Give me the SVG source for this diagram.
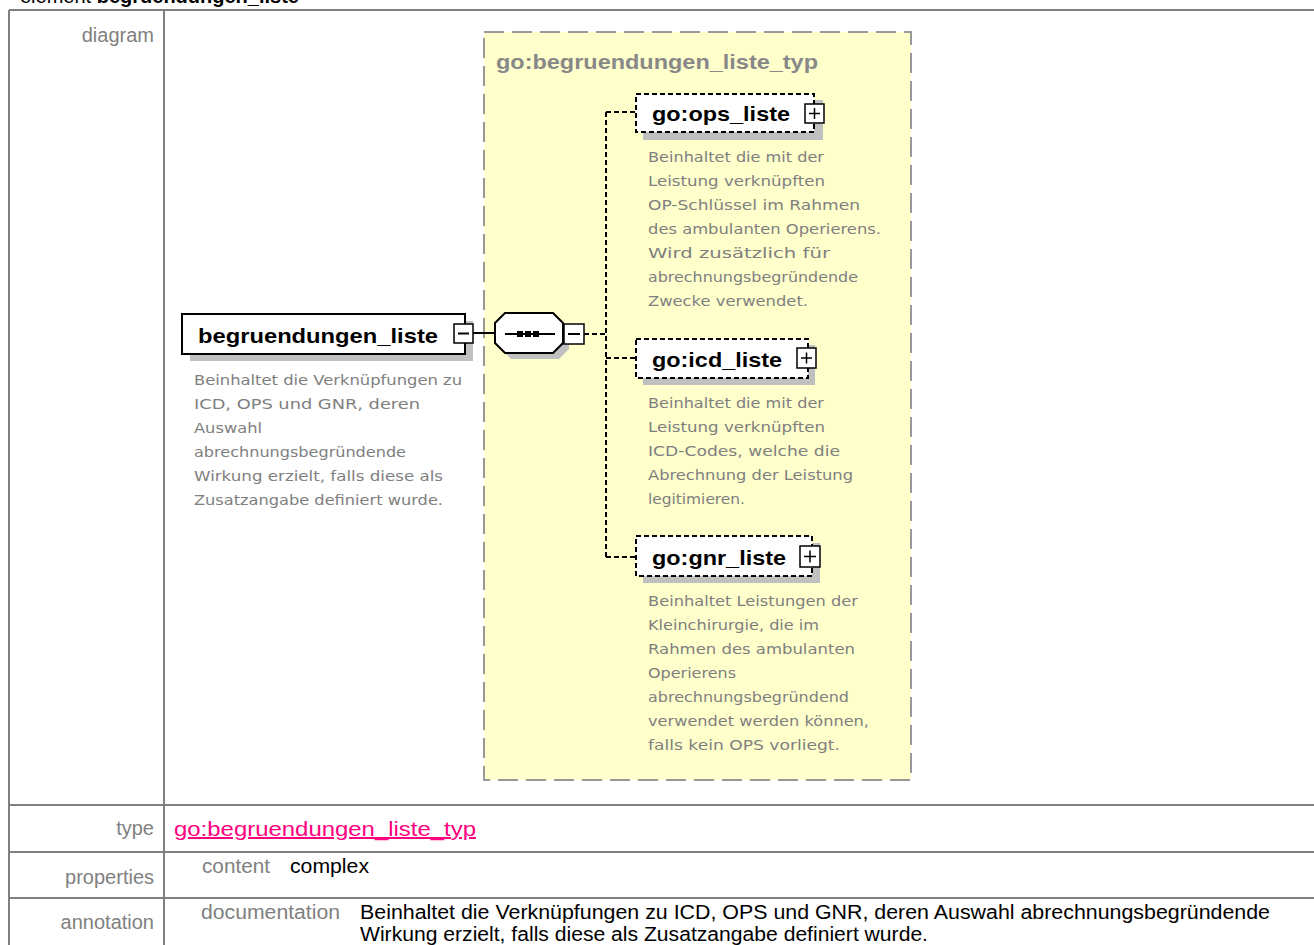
<svg xmlns="http://www.w3.org/2000/svg" width="1314" height="945" viewBox="0 0 1314 945">
<style>
.grid{stroke:#808080;stroke-width:2;fill:none}
.lbl{font-family:"Liberation Sans",Arial,sans-serif;font-size:20px;fill:#808080}
.val{font-family:"Liberation Sans",Arial,sans-serif;font-size:20px;fill:#000}
.name{font-family:"Liberation Sans",Arial,sans-serif;font-size:21px;font-weight:bold;fill:#000}
.desc{font-family:"DejaVu Sans",Verdana,sans-serif;font-size:14px;fill:#808080}
.shadow{fill:#c0c0c0}
.box{fill:#fff;stroke:#000;stroke-width:2}
.dbox{fill:#fff;stroke:#000;stroke-width:2;stroke-dasharray:5,3}
.conn{stroke:#000;stroke-width:2;fill:none;stroke-dasharray:5,3}
.solid{stroke:#000;stroke-width:2;fill:none}
.pm{fill:#fff;stroke:#000;stroke-width:1.5}
</style>
<rect width="1314" height="945" fill="#fff"/>
<text x="20" y="3" class="val" style="font-size:20px">element <tspan font-weight="bold">begruendungen_liste</tspan></text>
<g id="table">
<path class="grid" d="M9,10H1314M9,10V945M164,10V945M9,805H1314M9,852H1314M9,898H1314"/>
<text class="lbl" x="154" y="42" text-anchor="end">diagram</text>
<text class="lbl" x="154" y="835" text-anchor="end">type</text>
<text class="lbl" x="154" y="884" text-anchor="end">properties</text>
<text class="lbl" x="154" y="929" text-anchor="end">annotation</text>
<text x="174" y="836" style="font-family:'Liberation Sans',Arial,sans-serif;font-size:20px;fill:#ff0080;text-decoration:underline" textLength="302" lengthAdjust="spacingAndGlyphs">go:begruendungen_liste_typ</text>
<text class="lbl" x="202" y="873" textLength="68" lengthAdjust="spacingAndGlyphs">content</text>
<text class="val" x="290" y="873" textLength="79" lengthAdjust="spacingAndGlyphs">complex</text>
<text class="lbl" x="201" y="919" textLength="139" lengthAdjust="spacingAndGlyphs">documentation</text>
<text class="val" x="360" y="919" textLength="910" lengthAdjust="spacingAndGlyphs">Beinhaltet die Verknüpfungen zu ICD, OPS und GNR, deren Auswahl abrechnungsbegründende</text>
<text class="val" x="360" y="941" textLength="568" lengthAdjust="spacingAndGlyphs">Wirkung erzielt, falls diese als Zusatzangabe definiert wurde.</text>
</g>
<g id="complexType">
<rect x="484" y="32" width="427" height="748" fill="#ffffcc" stroke="#999" stroke-width="2" stroke-dasharray="20,8"/>
<text x="496" y="69" style="font-family:'Liberation Sans',Arial,sans-serif;font-size:21px;font-weight:bold;fill:#888" textLength="322" lengthAdjust="spacingAndGlyphs">go:begruendungen_liste_typ</text>
</g>
<g id="connectors">
<line class="solid" x1="473" y1="333" x2="495" y2="333"/>
<path class="conn" d="M584,334H606M606,112V557M606,112H636M606,358H636M606,557H636"/>
</g>
<g id="begruendungen_liste">
<rect class="shadow" x="190" y="321" width="283" height="40"/>
<rect class="box" x="182" y="314" width="283" height="40"/>
<text class="name" x="198" y="343" textLength="240" lengthAdjust="spacingAndGlyphs">begruendungen_liste</text>
<rect class="pm" x="454" y="324" width="19" height="19"/>
<line class="solid" x1="458" y1="333.5" x2="469" y2="333.5" stroke-width="1.5"/>
<g class="desc">
<text x="194" y="385" textLength="268" lengthAdjust="spacingAndGlyphs">Beinhaltet die Verknüpfungen zu</text>
<text x="194" y="409" textLength="226" lengthAdjust="spacingAndGlyphs">ICD, OPS und GNR, deren</text>
<text x="194" y="433" textLength="68" lengthAdjust="spacingAndGlyphs">Auswahl</text>
<text x="194" y="457" textLength="212" lengthAdjust="spacingAndGlyphs">abrechnungsbegründende</text>
<text x="194" y="481" textLength="249" lengthAdjust="spacingAndGlyphs">Wirkung erzielt, falls diese als</text>
<text x="194" y="505" textLength="249" lengthAdjust="spacingAndGlyphs">Zusatzangabe definiert wurde.</text>
</g>
</g>
<g id="sequence">
<polygon class="shadow" points="511,319 559,319 569,329 569,349 559,359 511,359 501,349 501,329"/>
<polygon fill="#fff" stroke="#000" stroke-width="2" points="505,313 553,313 563,323 563,343 553,353 505,353 495,343 495,323"/>
<line class="solid" x1="505" y1="334" x2="555" y2="334"/>
<rect x="517" y="331" width="6" height="6" fill="#000"/>
<rect x="525" y="331" width="6" height="6" fill="#000"/>
<rect x="533" y="331" width="6" height="6" fill="#000"/>
<rect class="pm" x="564" y="324" width="20" height="20"/>
<line class="solid" x1="568" y1="334" x2="580" y2="334" stroke-width="1.5"/>
</g>
<g id="ops_liste">
<rect class="shadow" x="643" y="100" width="180" height="40"/>
<rect class="dbox" x="636" y="94" width="178" height="38"/>
<text class="name" x="652" y="121" textLength="138" lengthAdjust="spacingAndGlyphs">go:ops_liste</text>
<rect class="pm" x="805" y="104" width="19" height="19"/>
<path d="M809,113.5H820M814.5,108V119" stroke="#000" stroke-width="1.5"/>
<g class="desc">
<text x="648" y="162" textLength="176" lengthAdjust="spacingAndGlyphs">Beinhaltet die mit der</text>
<text x="648" y="186" textLength="177" lengthAdjust="spacingAndGlyphs">Leistung verknüpften</text>
<text x="648" y="210" textLength="212" lengthAdjust="spacingAndGlyphs">OP-Schlüssel im Rahmen</text>
<text x="648" y="234" textLength="233" lengthAdjust="spacingAndGlyphs">des ambulanten Operierens.</text>
<text x="648" y="258" textLength="182" lengthAdjust="spacingAndGlyphs">Wird zusätzlich für</text>
<text x="648" y="282" textLength="210" lengthAdjust="spacingAndGlyphs">abrechnungsbegründende</text>
<text x="648" y="306" textLength="160" lengthAdjust="spacingAndGlyphs">Zwecke verwendet.</text>
</g>
</g>
<g id="icd_liste">
<rect class="shadow" x="643" y="345" width="172" height="40"/>
<rect class="dbox" x="636" y="339" width="172" height="39"/>
<text class="name" x="652" y="367" textLength="130" lengthAdjust="spacingAndGlyphs">go:icd_liste</text>
<rect class="pm" x="797" y="348" width="19" height="20"/>
<path d="M801,358H812M806.5,352.5V363.5" stroke="#000" stroke-width="1.5"/>
<g class="desc">
<text x="648" y="408" textLength="176" lengthAdjust="spacingAndGlyphs">Beinhaltet die mit der</text>
<text x="648" y="432" textLength="177" lengthAdjust="spacingAndGlyphs">Leistung verknüpften</text>
<text x="648" y="456" textLength="192" lengthAdjust="spacingAndGlyphs">ICD-Codes, welche die</text>
<text x="648" y="480" textLength="205" lengthAdjust="spacingAndGlyphs">Abrechnung der Leistung</text>
<text x="648" y="504" textLength="97" lengthAdjust="spacingAndGlyphs">legitimieren.</text>
</g>
</g>
<g id="gnr_liste">
<rect class="shadow" x="643" y="543" width="177" height="40"/>
<rect class="dbox" x="636" y="536" width="176" height="40"/>
<text class="name" x="652" y="565" textLength="134" lengthAdjust="spacingAndGlyphs">go:gnr_liste</text>
<rect class="pm" x="800" y="546" width="20" height="21"/>
<path d="M804,556.5H816M810,550.5V562.5" stroke="#000" stroke-width="1.5"/>
<g class="desc">
<text x="648" y="606" textLength="210" lengthAdjust="spacingAndGlyphs">Beinhaltet Leistungen der</text>
<text x="648" y="630" textLength="171" lengthAdjust="spacingAndGlyphs">Kleinchirurgie, die im</text>
<text x="648" y="654" textLength="207" lengthAdjust="spacingAndGlyphs">Rahmen des ambulanten</text>
<text x="648" y="678" textLength="88" lengthAdjust="spacingAndGlyphs">Operierens</text>
<text x="648" y="702" textLength="201" lengthAdjust="spacingAndGlyphs">abrechnungsbegründend</text>
<text x="648" y="726" textLength="221" lengthAdjust="spacingAndGlyphs">verwendet werden können,</text>
<text x="648" y="750" textLength="192" lengthAdjust="spacingAndGlyphs">falls kein OPS vorliegt.</text>
</g>
</g>
</svg>
